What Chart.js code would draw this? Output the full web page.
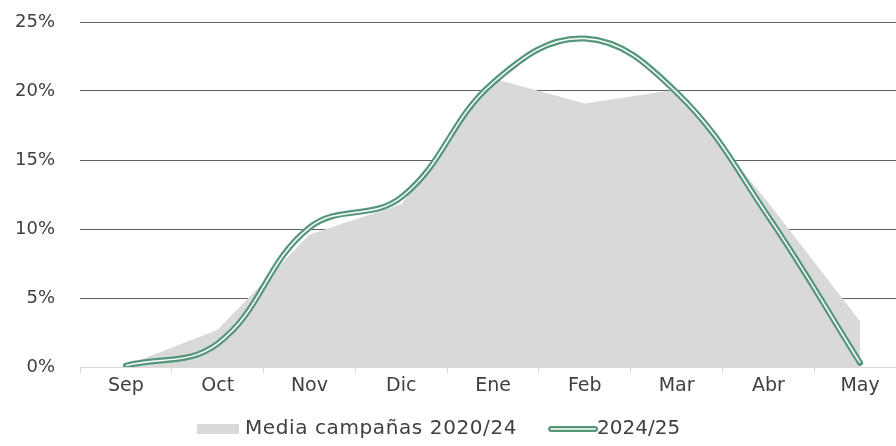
<!DOCTYPE html>
<html>
<head>
<meta charset="utf-8">
<script src="https://cdn.jsdelivr.net/npm/chart.js@4.4.1/dist/chart.umd.min.js"></script>
<style>
  html, body { margin: 0; padding: 0; background: #fff; overflow: hidden; }
  #wrap { width: 906px; height: 446px; }
</style>
</head>
<body>
<div id="wrap"><canvas id="myChart" width="906" height="446"></canvas></div>
<script>
var months = ['Sep', 'Oct', 'Nov', 'Dic', 'Ene', 'Feb', 'Mar', 'Abr', 'May'];
var media2020_24 = [0.1, 2.7, 9.6, 11.8, 20.9, 19.1, 20.1, 11.9, 3.3];
var campana2024_25 = [0.1, 1.7, 10.1, 12.3, 20.6, 23.8, 19.9, 10.9, 0.3];
var yTicks = [0, 5, 10, 15, 20, 25];

var FONT = "'DejaVu Sans', sans-serif";
var GREEN = '#56977b';
var GREY = '#d9d9d9';
var TEXT = '#404040';

// legend drawn by hand below the axis
var legendPlugin = {
    id: 'bottomLegend',
    afterDraw: function (chart) {
        var c = chart.ctx;
        var y = 429;
        c.save();
        c.font = '20px ' + FONT;
        c.textBaseline = 'middle';

        var t1 = chart.data.datasets[2].label;
        var t2 = chart.data.datasets[0].label;
        var x = 197;

        c.fillStyle = GREY;
        c.fillRect(x, y - 5, 42, 10);
        c.fillStyle = TEXT;
        c.letterSpacing = '0.6px';
        var w1 = c.measureText(t1).width;
        c.fillText(t1, x + 48, y);
        c.letterSpacing = '0px';

        var lx = x + 48 + w1 + 34;
        c.lineCap = 'round';
        c.strokeStyle = GREEN;
        c.lineWidth = 6;
        c.beginPath(); c.moveTo(lx, y); c.lineTo(lx + 44, y); c.stroke();
        c.strokeStyle = '#ffffff';
        c.lineWidth = 1.5;
        c.beginPath(); c.moveTo(lx, y); c.lineTo(lx + 44, y); c.stroke();
        c.fillStyle = TEXT;
        c.fillText(t2, lx + 46, y);
        c.restore();
    }
};

var ctx = document.getElementById('myChart').getContext('2d');
var chart = new Chart(ctx, {
    type: 'line',
    data: {
        labels: months,
        datasets: [{
            label: '2024/25',
            data: campana2024_25,
            borderColor: '#ffffff',
            borderWidth: 1.5,
            pointRadius: 0,
            fill: false,
            tension: 0.4,
            order: 1
        }, {
            label: '2024/25 outer',
            data: campana2024_25,
            borderColor: GREEN,
            borderWidth: 6,
            borderCapStyle: 'round',
            pointRadius: 0,
            fill: false,
            tension: 0.4,
            order: 2
        }, {
            label: 'Media campañas 2020/24',
            data: media2020_24,
            borderWidth: 0,
            borderColor: GREY,
            backgroundColor: GREY,
            pointRadius: 0,
            fill: 'origin',
            tension: 0,
            order: 3
        }]
    },
    options: {
        responsive: false,
        animation: false,
        layout: { padding: { top: 22, bottom: 49, left: 0, right: 0 } },
        plugins: {
            legend: { display: false },
            tooltip: { enabled: false }
        },
        scales: {
            x: {
                type: 'category',
                offset: true,
                afterFit: function (s) { s.height = 30; },
                grid: {
                    offset: true,
                    drawOnChartArea: false,
                    tickLength: 6,
                    color: GREY
                },
                border: { display: true, color: GREY, width: 1 },
                ticks: {
                    padding: 2,
                    color: TEXT,
                    font: { family: FONT, size: 19 }
                }
            },
            y: {
                min: 0,
                max: 25,
                afterFit: function (s) { s.width = 80; },
                afterBuildTicks: function (s) {
                    s.ticks = yTicks.map(function (v) { return { value: v }; });
                },
                grid: {
                    drawTicks: true,
                    tickLength: 25,
                    tickColor: 'rgba(0,0,0,0)',
                    color: function (c) { return c.tick && c.tick.value === 0 ? 'rgba(0,0,0,0)' : '#606060'; },
                    lineWidth: 1
                },
                border: { display: false },
                ticks: {
                    padding: 0,
                    color: TEXT,
                    font: { family: FONT, size: 18 },
                    callback: function (v) { return v + '%'; }
                }
            }
        }
    },
    plugins: [legendPlugin]
});
</script>
</body>
</html>
